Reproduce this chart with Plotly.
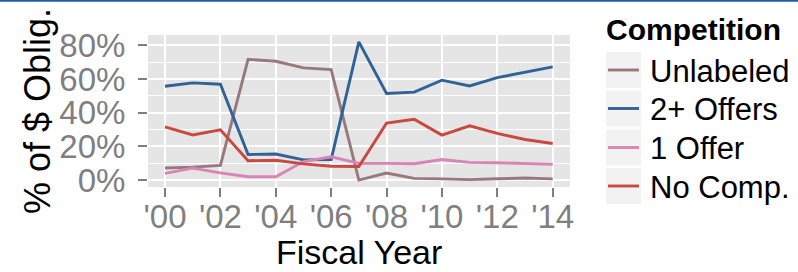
import plotly.graph_objects as go

years = list(range(2000, 2015))
tick_years = years[::2]
tick_labels = ["'00", "'02", "'04", "'06", "'08", "'10", "'12", "'14"]
y_ticks = [0, 20, 40, 60, 80]
y_tick_labels = ["0%", "20%", "40%", "60%", "80%"]

series_names = ["Unlabeled", "2+ Offers", "1 Offer", "No Comp."]
unlabeled = [7.2, 7.7, 8.7, 71.7, 70.5, 66.6, 65.6, 0.0, 4.2, 1.0, 0.7, 0.3, 0.8, 1.2, 0.7]
two_plus = [55.7, 57.7, 56.9, 15.2, 15.5, 12.0, 12.2, 82.0, 51.4, 52.2, 59.3, 55.9, 60.8, 64.2, 67.2]
one_offer = [4.0, 7.1, 4.3, 2.0, 2.0, 11.0, 13.8, 9.9, 9.9, 9.7, 12.2, 10.5, 10.3, 9.9, 9.3]
no_comp = [31.6, 26.8, 29.8, 11.5, 11.8, 9.6, 8.2, 8.1, 33.8, 36.1, 26.7, 32.2, 27.7, 24.1, 21.7]
colors = ["#98797b", "#2f6296", "#d984b6", "#c9483f"]
legend_title = "Competition"

W, H = 798, 272
L, R, T, B = 148, 228, 35, 85
pw, ph = W - L - R, H - T - B
FONT = "Liberation Sans, Arial, sans-serif"

def px(xp):
    return (xp - L) / pw

def py(yp):
    return (H - B - yp) / ph

fig = go.Figure()
for name, vals, col in zip(series_names, [unlabeled, two_plus, one_offer, no_comp], colors):
    fig.add_trace(go.Scatter(x=years, y=vals, mode="lines", name=name,
                             line=dict(color=col, width=2.9), showlegend=False))

shapes = []
annotations = []
row_y = [70, 108.5, 147.5, 186]
for name, col, yc in zip(series_names, colors, row_y):
    shapes.append(dict(type="rect", xref="paper", yref="paper",
                       x0=px(606), x1=px(641), y0=py(yc + 18), y1=py(yc - 18),
                       fillcolor="#f2f2f2", line=dict(width=0), layer="below"))
    shapes.append(dict(type="line", xref="paper", yref="paper",
                       x0=px(608), x1=px(639), y0=py(yc), y1=py(yc),
                       line=dict(color=col, width=2.9)))
    annotations.append(dict(text=name, xref="paper", yref="paper", x=px(648), y=py(yc + 1),
                            xanchor="left", yanchor="middle", showarrow=False,
                            font=dict(size=31, color="black")))
annotations.append(dict(text="<b>" + legend_title + "</b>", xref="paper", yref="paper",
                        x=px(604), y=py(30), xanchor="left", yanchor="middle", showarrow=False,
                        font=dict(size=30, color="black")))
annotations.append(dict(text="Fiscal Year", xref="paper", yref="paper", x=0.5, y=py(252),
                        xanchor="center", yanchor="middle", showarrow=False,
                        font=dict(size=34, color="black")))
annotations.append(dict(text="% of $ Oblig.", xref="paper", yref="paper", x=px(37), y=0.5,
                        xanchor="center", yanchor="middle", showarrow=False, textangle=-90,
                        font=dict(size=36, color="black")))
# top border line
shapes.append(dict(type="line", xref="paper", yref="paper",
                   x0=px(0), x1=px(W), y0=py(0.8), y1=py(0.8),
                   line=dict(color="#1f5ba6", width=2)))

fig.update_layout(
    width=W, height=H, autosize=False,
    margin=dict(l=L, r=R, t=T, b=B, pad=0, autoexpand=False),
    paper_bgcolor="white", plot_bgcolor="#e5e5e5",
    font=dict(family=FONT, color="black"),
    showlegend=False,
    shapes=shapes,
    annotations=annotations,
)
fig.update_xaxes(range=[1999.386, 2014.625], tickvals=tick_years, ticktext=tick_labels,
                 showgrid=True, gridcolor="white", gridwidth=2, zeroline=False,
                 ticks="outside", ticklen=9, tickwidth=2, tickcolor="#7f7f7f",
                 tickfont=dict(size=33, color="#7f7f7f"), showline=False, automargin=False,
                 ticklabelstandoff=-9)
fig.update_yaxes(range=[-4.1, 86.1], tickvals=y_ticks, ticktext=y_tick_labels,
                 showgrid=True, gridcolor="white", gridwidth=2, zeroline=False,
                 ticks="outside", ticklen=9, tickwidth=2, tickcolor="#7f7f7f",
                 tickfont=dict(size=33, color="#7f7f7f"), showline=False, automargin=False,
                 ticklabelstandoff=6,
                 minor=dict(dtick=10, tick0=0, showgrid=True, gridcolor="white", gridwidth=1, ticks=""))

fig.write_html("out.html", config={"displayModeBar": False},
               post_script="document.body.style.margin='0px';document.body.style.overflow='hidden';")
